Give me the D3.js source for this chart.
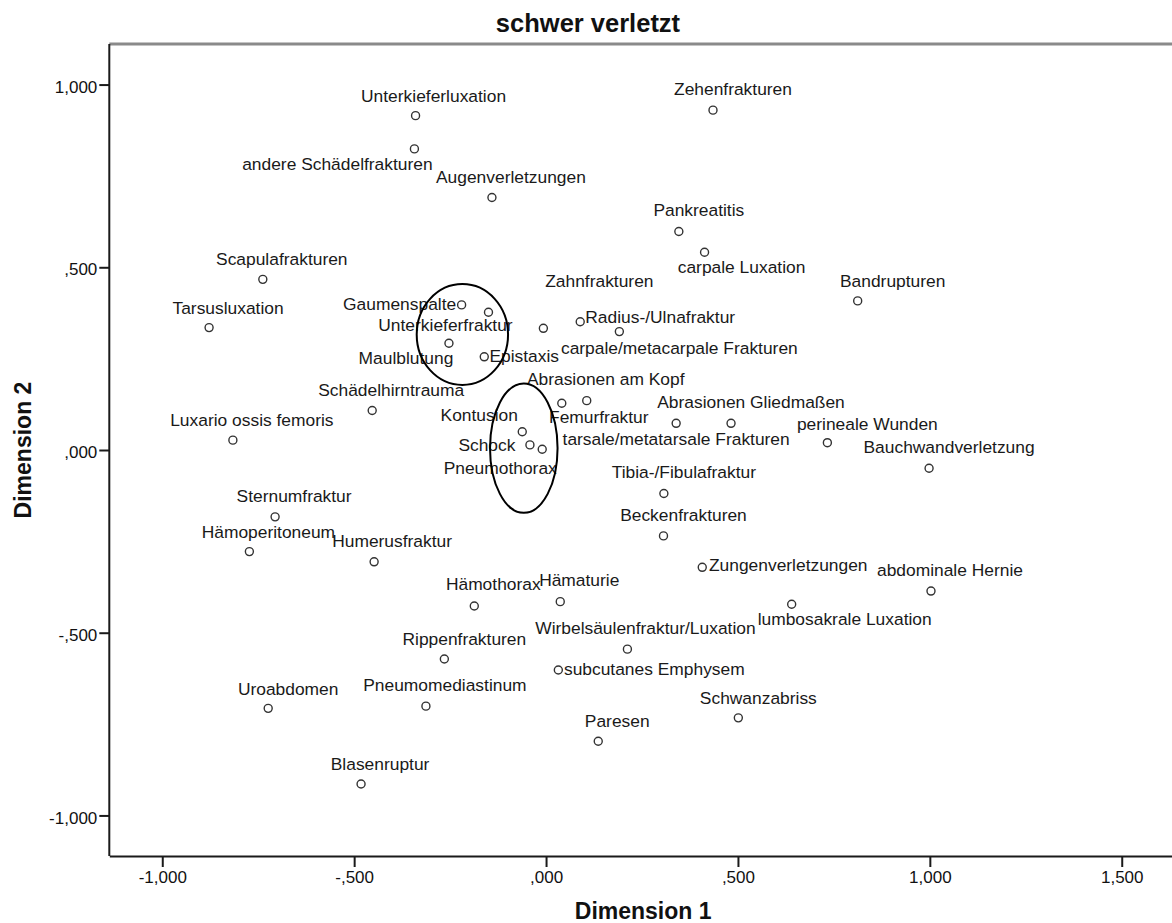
<!DOCTYPE html>
<html><head><meta charset="utf-8">
<script src="https://cdn.jsdelivr.net/npm/d3@7"></script>
<style>
html,body{margin:0;padding:0;background:#fff;overflow:hidden}
svg{display:block}
text{font-family:"Liberation Sans",Arial,sans-serif}
</style></head><body>
<svg id="chart" width="1172" height="923"></svg>
<script>
const categories = [
  "Unterkieferluxation","andere Schädelfrakturen","Augenverletzungen","Zehenfrakturen","Pankreatitis",
  "carpale Luxation","Scapulafrakturen","Bandrupturen","Tarsusluxation","Gaumenspalte",
  "Unterkieferfraktur","Maulblutung","Epistaxis","Zahnfrakturen","Radius-/Ulnafraktur",
  "carpale/metacarpale Frakturen","Schädelhirntrauma","Luxario ossis femoris","Femurfraktur","Abrasionen am Kopf",
  "Kontusion","Schock","Pneumothorax","tarsale/metatarsale Frakturen","Abrasionen Gliedmaßen",
  "perineale Wunden","Bauchwandverletzung","Tibia-/Fibulafraktur","Beckenfrakturen","Sternumfraktur",
  "Hämoperitoneum","Humerusfraktur","Zungenverletzungen","abdominale Hernie","lumbosakrale Luxation",
  "Hämothorax","Hämaturie","Rippenfrakturen","Wirbelsäulenfraktur/Luxation","subcutanes Emphysem",
  "Pneumomediastinum","Uroabdomen","Schwanzabriss","Paresen","Blasenruptur"
];
const dimension1 = [
  -0.340,-0.343,-0.141,0.435,0.346,
  0.413,-0.738,0.812,-0.878,-0.220,
  -0.150,-0.253,-0.161,-0.007,0.089,
  0.191,-0.453,-0.816,0.041,0.106,
  -0.062,-0.042,-0.010,0.339,0.482,
  0.733,0.998,0.307,0.306,-0.706,
  -0.773,-0.448,0.407,1.003,0.640,
  -0.187,0.037,-0.265,0.212,0.032,
  -0.313,-0.724,0.501,0.136,-0.482
];
const dimension2 = [
  0.915,0.824,0.691,0.930,0.598,
  0.541,0.467,0.408,0.335,0.397,
  0.377,0.292,0.255,0.333,0.351,
  0.324,0.108,0.027,0.128,0.135,
  0.050,0.014,0.002,0.073,0.073,
  0.020,-0.050,-0.119,-0.235,-0.183,
  -0.278,-0.306,-0.321,-0.386,-0.422,
  -0.427,-0.415,-0.572,-0.545,-0.602,
  -0.701,-0.707,-0.733,-0.797,-0.914
];
// label layout: offset of label centre / baseline from its point, in px
const labelOffsets = [
  [18,-14],[-77,21],[19,-14],[20,-15],[20,-15],
  [37,21],[19,-14],[35,-14],[19,-14],[-62,5],
  [-43,19],[-43,21],[40,5],[56,-41],[80,1],
  [60,22],[19,-15],[19,-14],[37,20],[19,-16],
  [-43,-11],[-43,6],[-42,25],[0,22],[20,-15],
  [40,-13],[20,-15],[20,-15],[20,-15],[19,-15],
  [19,-14],[18,-15],[86,4],[19,-15],[53,21],
  [19,-16],[19,-16],[20,-14],[18,-15],[96,5],
  [19,-15],[20,-13],[20,-14],[19,-14],[19,-14]
];
const xTickValues = [-1, -0.5, 0, 0.5, 1, 1.5];
const xTickLabels = ["-1,000", "-,500", ",000", ",500", "1,000", "1,500"];
const yTickValues = [-1, -0.5, 0, 0.5, 1];
const yTickLabels = ["-1,000", "-,500", ",000", ",500", "1,000"];
// hand-drawn ellipses (data units): centre x, centre y, radius x, radius y
const ellipseCx = [-0.218, -0.058];
const ellipseCy = [0.316, 0.005];
const ellipseRx = [0.119, 0.088];
const ellipseRy = [0.138, 0.177];

const chartTitle = "schwer verletzt";
const xTitle = "Dimension 1";
const yTitle = "Dimension 2";

(function () {
const svg = d3.select("#chart");
const pL = 109.3, pR = 1177, pT = 44, pB = 856;
const x = d3.scaleLinear().domain([-1.138, 1.644]).range([pL, pR]);
const y = d3.scaleLinear().domain([-1.111, 1.111]).range([pB, pT]);

// top frame line (grey)
svg.append("line").attr("x1", pL).attr("x2", pR).attr("y1", pT).attr("y2", pT)
  .attr("stroke", "#8a8a8a").attr("stroke-width", 2.8);

// axes
const yAxis = d3.axisLeft(y).tickValues(yTickValues)
  .tickFormat((d, i) => yTickLabels[i]).tickSize(10).tickSizeOuter(0).tickPadding(2);
const gy = svg.append("g").attr("transform", `translate(${pL},0)`).call(yAxis);
const xAxis = d3.axisBottom(x).tickValues(xTickValues)
  .tickFormat((d, i) => xTickLabels[i]).tickSize(11).tickSizeOuter(0).tickPadding(4);
const gx = svg.append("g").attr("transform", `translate(0,${pB})`).call(xAxis);
[gx, gy].forEach(g => {
  g.select(".domain").attr("stroke", "#1a1a1a").attr("stroke-width", 2);
  g.selectAll(".tick line").attr("stroke", "#1a1a1a").attr("stroke-width", 2);
  g.selectAll(".tick text").attr("fill", "#111").style("font-size", "17px")
    .style("font-family", '"Liberation Sans",Arial,sans-serif');
});
gy.selectAll(".tick text").attr("dy", "0.45em");
gy.select(".domain").attr("d", `M0,${pT}V${pB}`);

// points
const pts = categories.map((c, i) => ({name: c, x: dimension1[i], y: dimension2[i], off: labelOffsets[i]}));
svg.append("g").selectAll("circle").data(pts).join("circle")
  .attr("cx", d => x(d.x)).attr("cy", d => y(d.y)).attr("r", 4)
  .attr("fill", "none").attr("stroke", "#333").attr("stroke-width", 1.4);

svg.append("g").selectAll("text").data(pts).join("text")
  .attr("x", d => x(d.x) + d.off[0]).attr("y", d => y(d.y) + d.off[1])
  .attr("text-anchor", "middle").attr("fill", "#1a1a1a")
  .style("font-size", "17.4px").text(d => d.name);

// ellipses
svg.append("g").selectAll("ellipse").data(ellipseCx.map((cx, i) => i)).join("ellipse")
  .attr("cx", i => x(ellipseCx[i])).attr("cy", i => y(ellipseCy[i]))
  .attr("rx", i => x(ellipseRx[i]) - x(0)).attr("ry", i => y(0) - y(ellipseRy[i]))
  .attr("fill", "none").attr("stroke", "#000").attr("stroke-width", 2);

// titles
svg.append("text").attr("x", 588).attr("y", 32).attr("text-anchor", "middle")
  .style("font-size", "25.5px").style("font-weight", "bold").attr("fill", "#111").text(chartTitle);
svg.append("text").attr("x", (pL + pR) / 2).attr("y", 919).attr("text-anchor", "middle")
  .style("font-size", "23px").style("font-weight", "bold").attr("fill", "#111").text(xTitle);
svg.append("text").attr("transform", `translate(31,${(pT + pB) / 2}) rotate(-90)`)
  .attr("text-anchor", "middle")
  .style("font-size", "23px").style("font-weight", "bold").attr("fill", "#111").text(yTitle);
})();
</script>
</body></html>
